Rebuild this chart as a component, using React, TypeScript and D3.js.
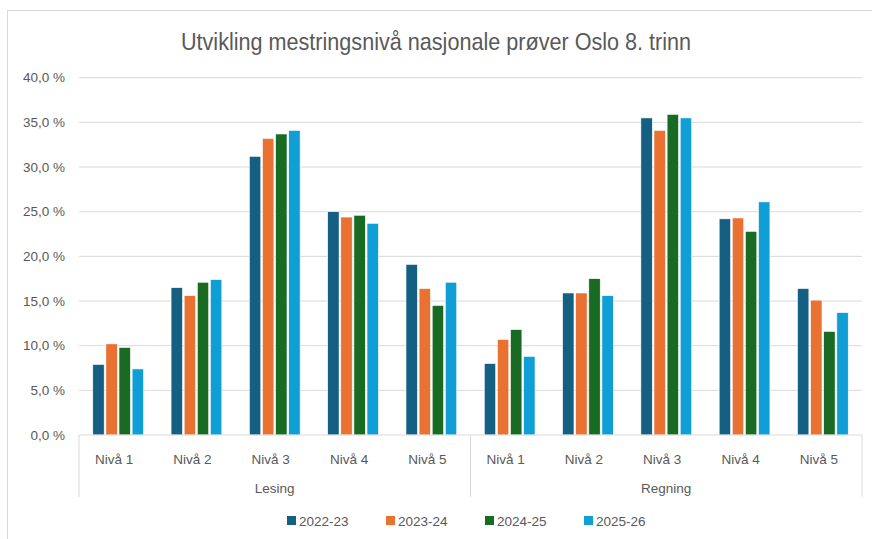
import { useEffect, useRef } from 'react'
import * as d3 from 'd3'

const levels = ['Nivå 1', 'Nivå 2', 'Nivå 3', 'Nivå 4', 'Nivå 5']
const subjects = ['Lesing', 'Regning']
const years = ['2022-23', '2023-24', '2024-25', '2025-26']
const colors = ['#156082', '#E97132', '#196B24', '#0F9ED5']

// percent per year, order: Lesing Nivå 1-5, Regning Nivå 1-5
const y2022 = [7.9, 16.5, 31.2, 25.0, 19.1, 8.0, 15.9, 35.5, 24.2, 16.4]
const y2023 = [10.2, 15.6, 33.2, 24.4, 16.4, 10.7, 15.9, 34.1, 24.3, 15.1]
const y2024 = [9.8, 17.1, 33.7, 24.6, 14.5, 11.8, 17.5, 35.9, 22.8, 11.6]
const y2025 = [7.4, 17.4, 34.1, 23.7, 17.1, 8.8, 15.6, 35.5, 26.1, 13.7]
const series = [y2022, y2023, y2024, y2025]
const yTicks = [0, 5, 10, 15, 20, 25, 30, 35, 40]

function App() {
  const svgRef = useRef<SVGSVGElement>(null)
  const width = 872,
        height = 539
  const pad = { left: 79, top: 77.7, right: 10, bottom: 104 }
  const font = '"Liberation Sans", Arial, sans-serif'
  const textCol = '#595959'

  useEffect(() => {
    const svg = d3.select(svgRef.current)
    svg.selectAll('*').remove()

    const cats = subjects.flatMap(s => levels.map(l => `${s}|${l}`))
    const x = d3.scaleBand<string>().domain(cats).range([pad.left, width - pad.right])
    const xInner = d3.scaleBand<string>().domain(years)
      .range([0, x.bandwidth()]).paddingInner(0.13).paddingOuter(1.05)
    const y = d3.scaleLinear().domain([0, 40]).range([height - pad.bottom, pad.top])

    // frame
    svg.append('rect')
      .attr('x', 7.5).attr('y', 10.5)
      .attr('width', width + 10).attr('height', height)
      .attr('fill', 'white').attr('stroke', '#d9d9d9')

    svg.append('text')
      .attr('transform', 'translate(436, 50) scale(0.9, 1)')
      .attr('text-anchor', 'middle')
      .attr('font-family', font).attr('font-size', 24)
      .attr('fill', textCol)
      .text('Utvikling mestringsnivå nasjonale prøver Oslo 8. trinn')

    // grid + y labels
    const grid = svg.append('g')
    grid.selectAll('line').data(yTicks.slice(1)).join('line')
      .attr('x1', pad.left).attr('x2', width - pad.right)
      .attr('y1', d => y(d)).attr('y2', d => y(d))
      .attr('stroke', '#d9d9d9').attr('stroke-width', 1)
    svg.append('g').selectAll('text').data(yTicks).join('text')
      .attr('x', 65).attr('y', d => y(d) + 4.5)
      .attr('text-anchor', 'end')
      .attr('font-family', font).attr('font-size', 13.5).attr('fill', textCol)
      .text(d => d3.format('.1f')(d).replace('.', ',') + ' %')

    // bars
    series.forEach((vals, si) => {
      svg.append('g').selectAll('rect').data(vals).join('rect')
        .attr('x', (_, i) => (x(cats[i]) as number) + (xInner(years[si]) as number))
        .attr('width', xInner.bandwidth())
        .attr('y', d => y(d))
        .attr('height', d => y(0) - y(d))
        .attr('fill', colors[si])
        .attr('stroke', 'white').attr('stroke-width', 0.6)
    })

    // category axis
    const axis = svg.append('g').attr('stroke', '#d9d9d9').attr('stroke-width', 1)
    axis.append('line')
      .attr('x1', pad.left).attr('x2', width - pad.right)
      .attr('y1', y(0)).attr('y2', y(0))
    const splits = [pad.left, x(`${subjects[1]}|${levels[0]}`) as number, width - pad.right]
    axis.selectAll('line.split').data(splits).join('line')
      .attr('class', 'split')
      .attr('x1', d => d).attr('x2', d => d)
      .attr('y1', y(0)).attr('y2', 497)

    svg.append('g').selectAll('text').data(cats).join('text')
      .attr('x', d => (x(d) as number) + x.bandwidth() / 2 - 4)
      .attr('y', 464)
      .attr('text-anchor', 'middle')
      .attr('font-family', font).attr('font-size', 13.5).attr('fill', textCol)
      .text(d => d.split('|')[1])

    svg.append('g').selectAll('text').data(subjects).join('text')
      .attr('x', s => {
        const a = x(`${s}|${levels[0]}`) as number
        const b = (x(`${s}|${levels[4]}`) as number) + x.bandwidth()
        return (a + b) / 2
      })
      .attr('y', 493)
      .attr('text-anchor', 'middle')
      .attr('font-family', font).attr('font-size', 13.5).attr('fill', textCol)
      .text(d => d)

    // legend
    const legend = svg.append('g').selectAll('g').data(years).join('g')
      .attr('transform', (_, i) => `translate(${287 + i * 99}, 521)`)
    legend.append('rect')
      .attr('x', 0).attr('y', -5).attr('width', 9).attr('height', 9)
      .attr('fill', (_, i) => colors[i])
    legend.append('text')
      .attr('x', 12).attr('y', 4.5)
      .attr('font-family', font).attr('font-size', 13.5).attr('fill', textCol)
      .text(d => d)
  }, [])

  return (
    <div style={{ position: 'absolute', left: 0, top: 0 }}>
      <svg ref={svgRef} width={width} height={height} viewBox={`0 0 ${width} ${height}`}
        style={{ display: 'block', background: 'white' }} />
    </div>
  )
}

export default App
